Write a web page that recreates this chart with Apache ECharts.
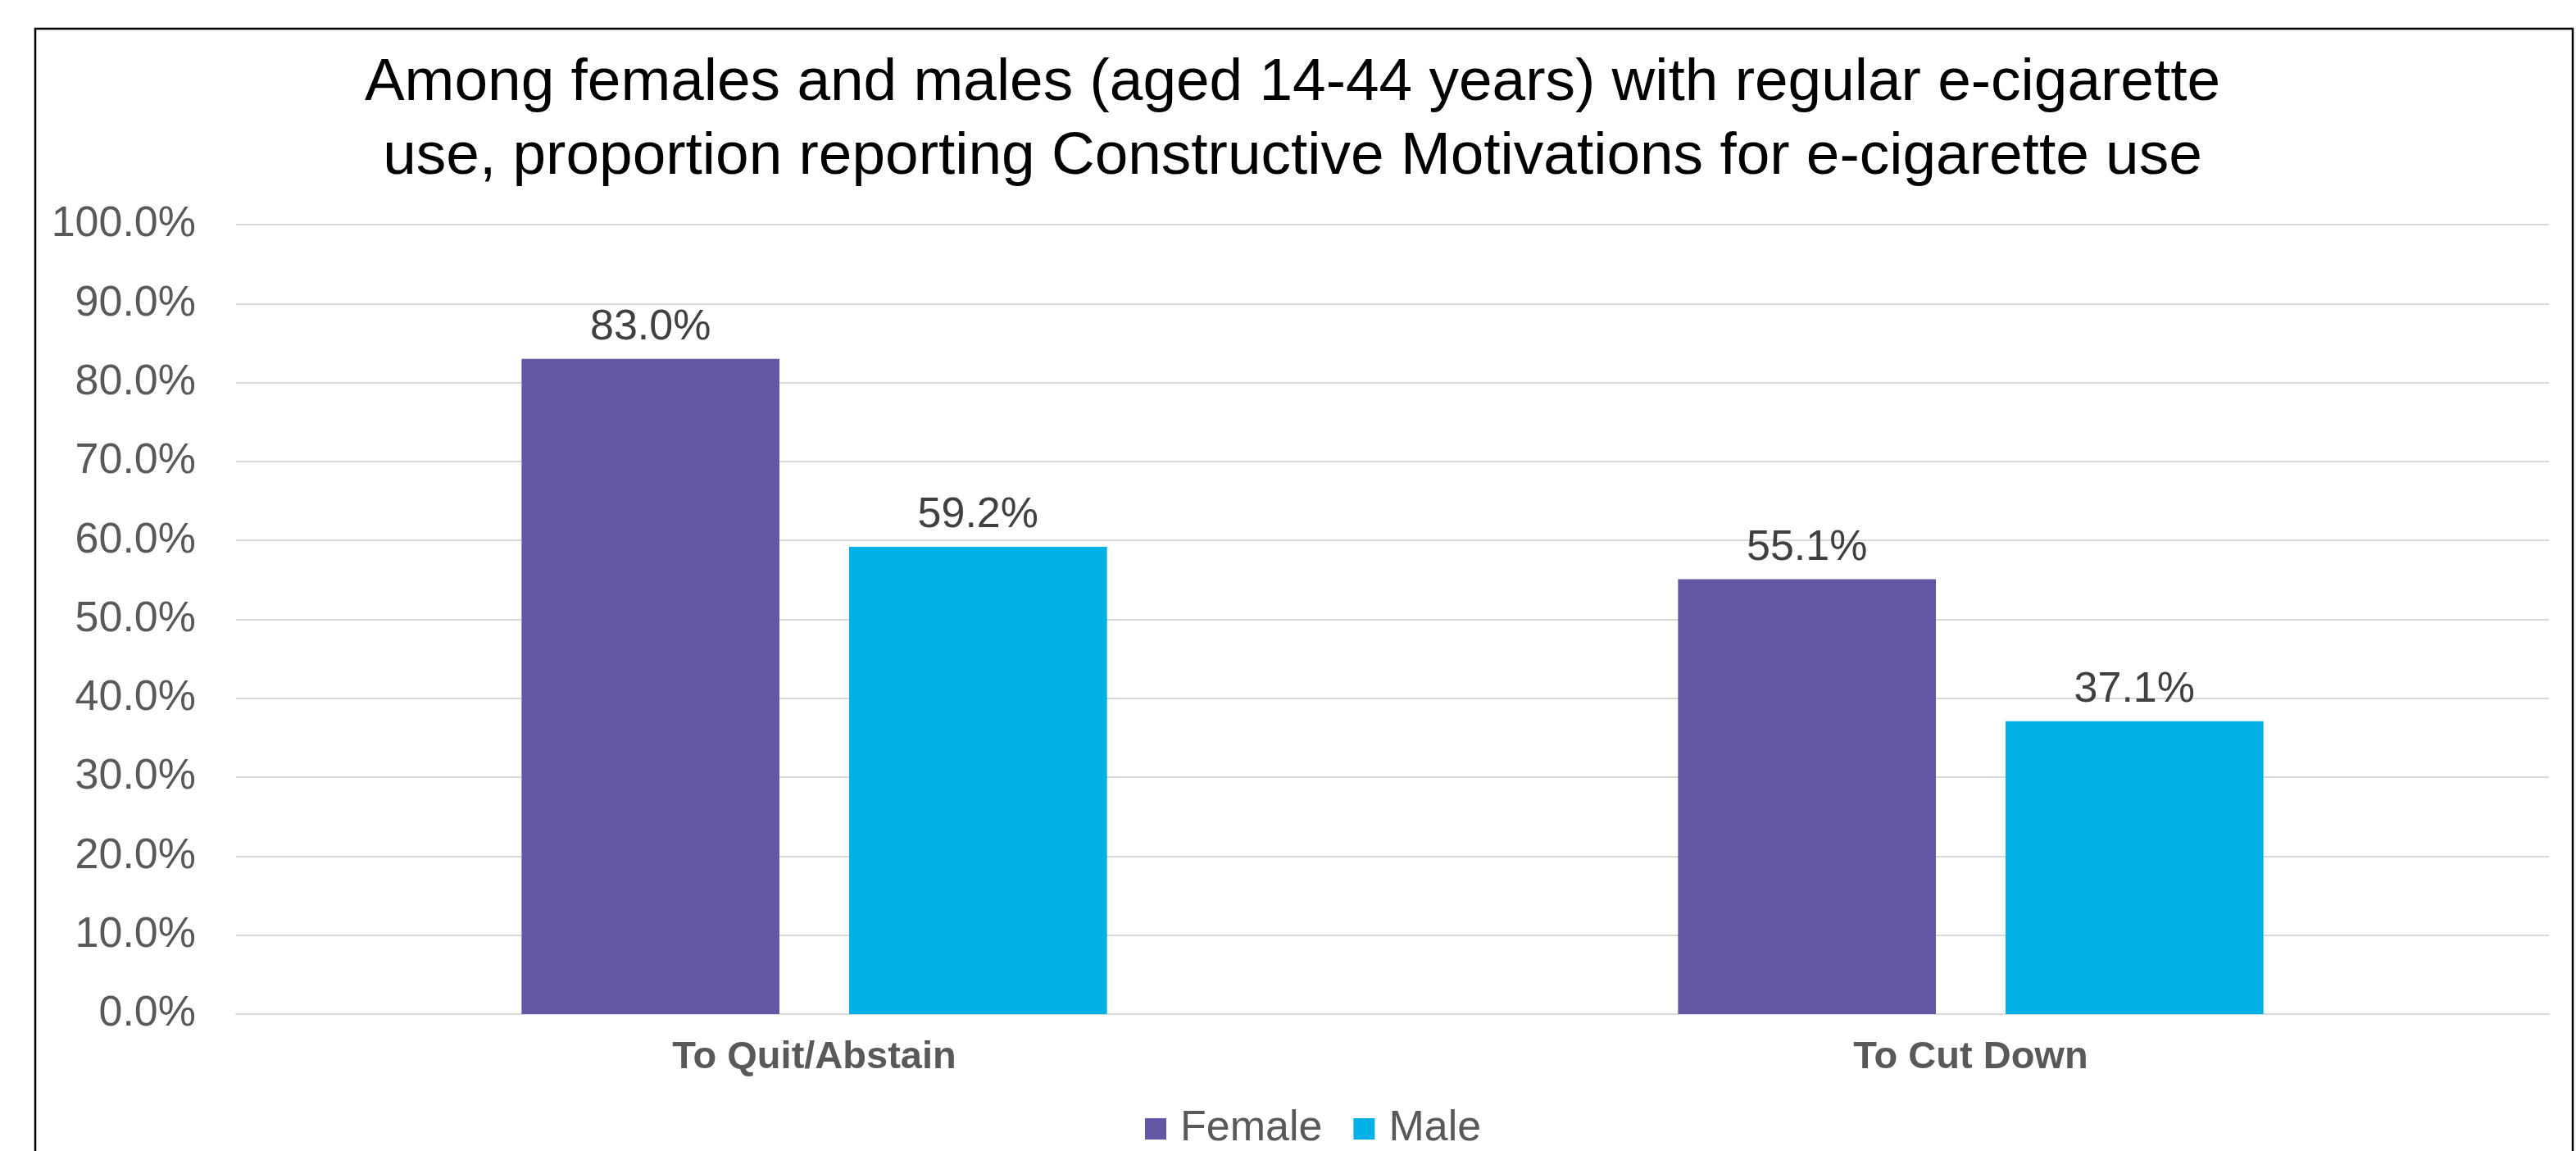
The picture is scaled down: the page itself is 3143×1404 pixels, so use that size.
<!DOCTYPE html>
<html>
<head>
<meta charset="utf-8">
<script src="https://cdn.jsdelivr.net/npm/echarts@6/dist/echarts.min.js"></script>
<style>
html,body{margin:0;padding:0;background:#fff;}
#chart{width:3143px;height:1404px;}
</style>
</head>
<body>
<div id="chart"></div>
<script>
var titleText = 'Among females and males (aged 14-44 years) with regular e-cigarette\nuse, proportion reporting Constructive Motivations for e-cigarette use';
var categories = ['To Quit/Abstain', 'To Cut Down'];
var seriesNames = ['Female', 'Male'];
var femaleValues = [83.0, 55.1];
var maleValues = [59.2, 37.1];
var yMin = 0, yMax = 100, yInterval = 10;

var FONT = '"Liberation Sans", Arial, sans-serif';
var chart = echarts.init(document.getElementById('chart'), null, {renderer: 'canvas'});
var labelCfg = {
  show: true, position: 'top', distance: 12,
  formatter: function (p) { return p.value.toFixed(1) + '%'; },
  fontFamily: FONT, fontSize: 52, color: '#404040'
};
chart.setOption({
  animation: false,
  backgroundColor: '#ffffff',
  title: {
    text: titleText,
    left: 1572, top: 52, textAlign: 'center',
    textStyle: {fontFamily: FONT, fontSize: 73, fontWeight: 'normal', color: '#000000', lineHeight: 90}
  },
  graphic: [{
    type: 'rect', silent: true,
    shape: {x: 43, y: 35, width: 3096, height: 1420},
    style: {fill: 'none', stroke: '#000000', lineWidth: 2.5}
  }],
  legend: {
    data: seriesNames,
    left: 1392, top: 1346,
    itemWidth: 26, itemHeight: 26, itemGap: 38,
    icon: 'rect',
    textStyle: {fontFamily: FONT, fontSize: 52, color: '#595959', padding: [0, 0, 0, 12]}
  },
  grid: {left: 288, right: 33, top: 274, bottom: 167, containLabel: false},
  xAxis: {
    type: 'category', data: categories,
    axisLine: {show: true, lineStyle: {color: '#d9d9d9', width: 2}},
    axisTick: {show: false},
    axisLabel: {fontFamily: FONT, fontSize: 47, fontWeight: 'bold', color: '#595959', margin: 30}
  },
  yAxis: {
    type: 'value', min: yMin, max: yMax, interval: yInterval,
    axisLine: {show: false}, axisTick: {show: false},
    splitLine: {lineStyle: {color: '#d9d9d9', width: 2}},
    axisLabel: {fontFamily: FONT, fontSize: 52, color: '#595959', margin: 49,
      formatter: function (v) { return v.toFixed(1) + '%'; }}
  },
  series: [
    {name: seriesNames[0], type: 'bar', data: femaleValues, barWidth: '22.3%', barGap: '27%',
     itemStyle: {color: '#6457A5'}, label: labelCfg},
    {name: seriesNames[1], type: 'bar', data: maleValues, barWidth: '22.3%', barGap: '27%',
     itemStyle: {color: '#00B0E6'}, label: labelCfg}
  ]
});
</script>
</body>
</html>
